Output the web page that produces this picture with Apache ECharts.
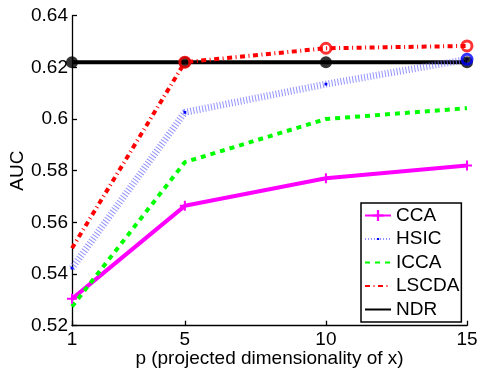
<!DOCTYPE html>
<html>
<head>
<meta charset="utf-8">
<script src="https://cdn.jsdelivr.net/npm/echarts@6/dist/echarts.min.js"></script>
<style>
html,body{margin:0;padding:0;background:#fff;}
#c{width:477px;height:372px;}
</style>
</head>
<body>
<div id="c"></div>
<script>
var xValues = [1, 5, 10, 15];
var xTicks = [1, 5, 10, 15];
var yTicks = [0.52, 0.54, 0.56, 0.58, 0.6, 0.62, 0.64];
var cca   = [0.5304, 0.5664, 0.5771, 0.5820];
var hsic  = [0.5423, 0.6026, 0.6135, 0.6231];
var icca  = [0.5274, 0.5833, 0.6000, 0.6042];
var lscda = [0.5500, 0.6220, 0.6274, 0.6283];
var ndr   = [0.6220, 0.6220, 0.6220, 0.6220];
// indices of points highlighted with ring markers
var ndrRings = [0, 1, 2, 3];
var lscdaRings = [1, 2, 3];
var hsicRings = [3];

function pts(arr){ return xValues.map(function(x,i){ return [x, arr[i]]; }); }
function ringPts(arr, idx){ return idx.map(function(i){ return [xValues[i], arr[i]]; }); }

var FONT = 'Liberation Sans, Arial, sans-serif';
var FS = 19;
var plusPath = 'path://M4,0h2v10h-2z M0,4h10v2h-10z';
var dotPath = 'path://M0,0h0.01v0.01h-0.01z M9.99,9.99h0.01v0.01h-0.01z M4,4h2v2h-2z';

var chart = echarts.init(document.getElementById('c'), null, {renderer:'canvas'});
chart.setOption({
  animation: false,
  backgroundColor: '#fff',
  grid: {left: 72, right: 10, top: 15.7, bottom: 46.3, containLabel: false, outerBoundsMode: 'none'},
  xAxis: {
    type: 'value', min: 1, max: 15,
    name: 'p (projected dimensionality of x)',
    nameLocation: 'middle', nameGap: 24, nameMoveOverlap: false,
    nameTextStyle: {fontFamily: FONT, fontSize: FS, color: '#000'},
    axisLine: {show: true, lineStyle: {color: '#000', width: 1.3}},
    axisTick: {show: true, inside: true, length: 5, customValues: xTicks, lineStyle: {color: '#000', width: 1.3}},
    axisLabel: {customValues: xTicks, fontFamily: FONT, fontSize: FS, color: '#000', margin: 5},
    splitLine: {show: false}
  },
  yAxis: {
    type: 'value', min: 0.52, max: 0.64, interval: 0.02,
    name: 'AUC', nameLocation: 'middle', nameGap: 45, nameRotate: 90, nameMoveOverlap: false,
    nameTextStyle: {fontFamily: FONT, fontSize: FS, color: '#000'},
    axisLine: {show: true, lineStyle: {color: '#000', width: 1.3}},
    axisTick: {show: true, inside: true, length: 5, customValues: yTicks, lineStyle: {color: '#000', width: 1.3}},
    axisLabel: {customValues: yTicks, fontFamily: FONT, fontSize: FS, color: '#000', margin: 4,
      formatter: function(v){ return String(parseFloat(v.toFixed(2))); }},
    splitLine: {show: false}
  },
  legend: {
    orient: 'vertical', left: 361, top: 203,
    data: [
      {name: 'CCA'},
      {name: 'HSIC'},
      {name: 'ICCA', itemStyle: {opacity: 0}},
      {name: 'LSCDA', itemStyle: {opacity: 0}},
      {name: 'NDR', itemStyle: {opacity: 0}}
    ],
    backgroundColor: '#fff', borderColor: '#000', borderWidth: 1.5, borderRadius: 0,
    padding: [3, 2, 3, 3],
    itemWidth: 26, itemHeight: 14, itemGap: 4.5,
    textStyle: {fontFamily: FONT, fontSize: FS, color: '#000', lineHeight: 19}
  },
  series: [
    {name: 'NDR', type: 'line', data: pts(ndr), z: 2,
     symbol: 'none', lineStyle: {color: '#000', width: 4}, itemStyle: {color: '#000'}},
    {name: 'CCA', type: 'line', data: pts(cca), z: 3,
     symbol: plusPath, symbolSize: 10, itemStyle: {color: '#ff00ff'},
     lineStyle: {color: '#ff00ff', width: 4}},
    {name: 'HSIC', type: 'line', data: pts(hsic), z: 3,
     symbol: dotPath, symbolSize: 14, itemStyle: {color: '#0000ff', borderWidth: 0},
     lineStyle: {color: 'rgba(110,110,255,0.75)', width: 7, type: [1, 2], cap: 'butt'}},
    {name: 'ICCA', type: 'line', data: pts(icca), z: 3,
     symbol: 'none', itemStyle: {color: '#00ff00'},
     lineStyle: {color: '#00ff00', width: 4, type: [5, 5], cap: 'butt'}},
    {name: 'LSCDA', type: 'line', data: pts(lscda), z: 4,
     symbol: 'none', itemStyle: {color: '#ff0000'},
     lineStyle: {color: '#ff0000', width: 4, type: [5, 3.5, 1, 3.5], cap: 'butt'}},
    {name: 'ndrRings', type: 'scatter', data: ringPts(ndr, ndrRings), z: 5,
     symbol: 'circle', symbolSize: 12,
     itemStyle: {color: '#000', borderColor: '#000', borderWidth: 0}},
    {name: 'hsicRings', type: 'scatter', data: ringPts(hsic, hsicRings), z: 6,
     symbol: 'circle', symbolSize: 10,
     itemStyle: {color: 'rgba(0,0,0,0)', borderColor: '#0000ff', borderWidth: 3}},
    {name: 'lscdaRings', type: 'scatter', data: ringPts(lscda, lscdaRings), z: 6,
     symbol: 'circle', symbolSize: 10,
     itemStyle: {color: 'rgba(0,0,0,0)', borderColor: '#ff0000', borderWidth: 3}}
  ]
});
</script>
</body>
</html>
